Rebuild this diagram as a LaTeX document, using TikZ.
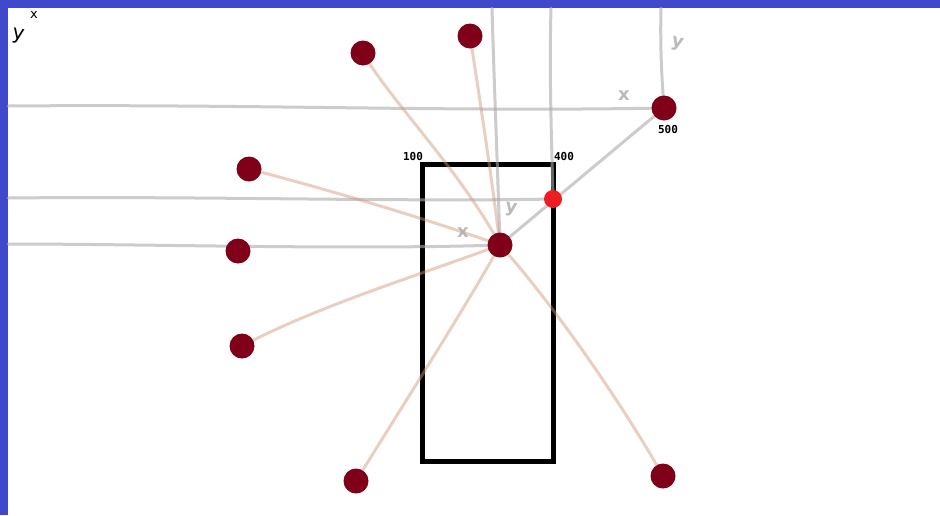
\documentclass[tikz,border=0pt]{standalone}
\usepackage{fontspec}
\newfontfamily\lblfont{DejaVu Sans Mono}
\newfontfamily\handfont{DejaVu Sans}
\definecolor{frameblue}{RGB}{64,72,204}
\definecolor{dotred}{RGB}{128,0,26}
\definecolor{brightred}{RGB}{236,30,36}
\definecolor{axisgray}{RGB}{170,170,170}
\definecolor{linkbrown}{RGB}{205,150,120}
\tikzset{
  dot/.style={circle,fill=dotred,inner sep=0pt,minimum size=25pt},
  hotdot/.style={circle,fill=brightred,inner sep=0pt,minimum size=18pt},
  axisline/.style={draw=axisgray,line width=3pt,opacity=0.6,line cap=round},
  linkline/.style={draw=linkbrown,line width=3pt,opacity=0.45,line cap=round},
  numlabel/.style={font=\lblfont\bfseries\fontsize{11}{11}\selectfont,inner sep=0pt},
  hand/.style={font=\handfont\bfseries\fontsize{18}{18}\selectfont,text=axisgray,inner sep=0pt,opacity=0.8},
  tinyaxis/.style={font=\handfont\fontsize{13}{13}\selectfont,inner sep=0pt}
}
\begin{document}
\begin{tikzpicture}[x=1pt,y=-1pt]
\useasboundingbox (0,0) rectangle (940,515);
\fill[white] (0,0) rectangle (940,515);
\fill[frameblue] (0,0) rectangle (940,8);
\fill[frameblue] (0,0) rectangle (8,515);

% rectangle
\draw[line width=5pt,black] (422.5,164) rectangle (553.5,461.5);

% coordinates for free ends
\coordinate (l1) at (8,106);
\coordinate (l2) at (8,198);
\coordinate (l3) at (8,244);
\coordinate (t1) at (492,8);
\coordinate (t2) at (551,8);
\coordinate (t3) at (661,8);

% node positions
\path (500,245) coordinate (cpos)
      (664,108) coordinate (p500)
      (553,199) coordinate (prd);

% gray axis lines
\draw[axisline] (l1) .. controls (250,104) and (450,112) .. (p500);
\draw[axisline] (t3) .. controls (660,50) and (662,80) .. (p500);
\draw[axisline] (l2) .. controls (200,196) and (400,202) .. (prd);
\draw[axisline] (l3) .. controls (150,244) and (350,250) .. (cpos);
\draw[axisline] (t1) .. controls (494,80) and (498,180) .. (cpos);
\draw[axisline] (t2) .. controls (549,80) and (552,150) .. (prd);
\draw[axisline] (cpos) -- (p500);

% brown links
\draw[linkline] (363,53) .. controls (390,100) and (460,170) .. (cpos);
\draw[linkline] (470,36) .. controls (480,100) and (492,180) .. (cpos);
\draw[linkline] (249,169) .. controls (330,190) and (430,220) .. (cpos);
\draw[linkline] (242,346) .. controls (320,305) and (420,275) .. (cpos);
\draw[linkline] (356,481) .. controls (400,410) and (470,300) .. (cpos);
\draw[linkline] (663,476) .. controls (620,400) and (550,300) .. (cpos);

% nodes
\node[dot] (c) at (cpos) {};
\node[dot] (n500) at (p500) {};
\node[hotdot] (r) at (prd) {};
\node[dot] (a1) at (363,53) {};
\node[dot] (a2) at (470,36) {};
\node[dot] (a3) at (249,169) {};
\node[dot] (a4) at (238,251) {};
\node[dot] (a5) at (242,346) {};
\node[dot] (a6) at (356,481) {};
\node[dot] (a7) at (663,476) {};

% number labels
\node[numlabel] (lab100) at (413,156) {100};
\node[numlabel] (lab400) at (564,156) {400};
\node[numlabel] (lab500) at (668,129) {500};

% hand-drawn axis letters
\node[hand] (hx1) at (624,96) {x};
\node[hand,rotate=-15] (hy1) at (677,44) {y};
\node[hand] (hx2) at (463,233) {x};
\node[hand,rotate=-10] (hy2) at (511,210) {y};
\node[tinyaxis] (tx) at (34,15) {x};
\node[font=\handfont\fontsize{20}{20}\selectfont,inner sep=0pt,rotate=-10] (ty) at (18,36) {y};
\end{tikzpicture}
\end{document}
